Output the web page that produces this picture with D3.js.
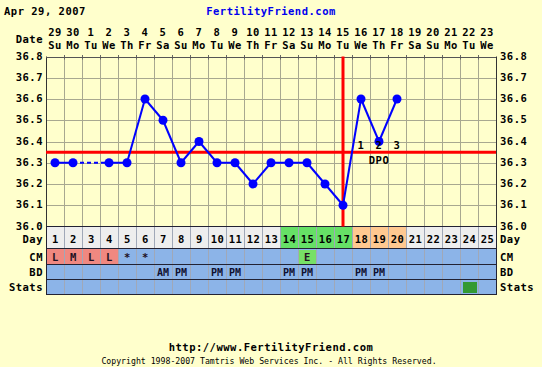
<!DOCTYPE html>
<html><head><meta charset="utf-8">
<script src="https://cdn.jsdelivr.net/npm/d3@7"></script>
<style>
html,body{margin:0;padding:0;background:#FFFFCC;}
svg{display:block;}
text{font-family:"DejaVu Sans Mono",monospace;font-weight:bold;}
</style></head>
<body>
<svg id="c" width="542" height="367"></svg>
<script>
const days = [1,2,3,4,5,6,7,8,9,10,11,12,13,14,15,16,17,18,19,20,21,22,23,24,25];
const dateLabels = ["29","30","1","2","3","4","5","6","7","8","9","10","11","12","13","14","15","16","17","18","19","20","21","22","23"];
const weekdays = ["Su","Mo","Tu","We","Th","Fr","Sa","Su","Mo","Tu","We","Th","Fr","Sa","Su","Mo","Tu","We","Th","Fr","Sa","Su","Mo","Tu","We"];
const temps = [36.3,36.3,null,36.3,36.3,36.6,36.5,36.3,36.4,36.3,36.3,36.2,36.3,36.3,36.3,36.2,36.1,36.6,36.4,36.6,null,null,null,null,null];
const cmValues = ["L","M","L","L","*","*","","","","","","","","","E","","","","","","","","","",""];
const bdValues = ["","","","","","","AM","PM","","PM","PM","","","PM","PM","","","PM","PM","","","","","",""];
const statsDays = [24];
const fertileDays = [14,15,16,17];
const dpoDays = [18,19,20];
const dpoLabels = ["1","2","3"];
const menstrualDays = [1,2,3,4];
const eggWhiteDays = [15];
const coverline = 36.35;
const ovulationDay = 17;
const yTicks = [36.0,36.1,36.2,36.3,36.4,36.5,36.6,36.7,36.8];
const title = "Apr 29, 2007";

const FS = "10.5px", LS = "0.5px";
const svg = d3.select("#c");
const L = 46, R = 496, T = 56.5, B = 226.5;
const x = d3.scaleBand().domain(days).range([L, R]).padding(0);
const y = d3.scaleLinear().domain([36.0, 36.8]).range([B, T]);
const cx = d => x(d) + x.bandwidth()/2;
function txt(sel){ return sel.attr("font-size",FS).attr("letter-spacing",LS); }

svg.append("rect").attr("width",542).attr("height",367).attr("fill","#FFFFCC");

// header
txt(svg.append("text")).attr("x",4).attr("y",15).attr("fill","#000").text(title);
txt(svg.append("text")).attr("x",271).attr("y",15).attr("text-anchor","middle").attr("fill","#0000EE").text("FertilityFriend.com");

// date header
txt(svg.append("text")).attr("x",43).attr("y",43).attr("text-anchor","end").text("Date");
txt(svg.append("g").selectAll("text").data(days).join("text"))
  .attr("x",d=>cx(d)).attr("y",36).attr("text-anchor","middle")
  .text((d,i)=>dateLabels[i]);
txt(svg.append("g").selectAll("text").data(days).join("text"))
  .attr("x",d=>cx(d)).attr("y",49).attr("text-anchor","middle")
  .text((d,i)=>weekdays[i]);

// grid
const grid = svg.append("g").attr("stroke","#A8A890").attr("stroke-width",1);
grid.selectAll("line.h").data(yTicks).join("line")
  .attr("x1",L).attr("x2",R).attr("y1",d=>Math.round(y(d))+0.5).attr("y2",d=>Math.round(y(d))+0.5);
grid.selectAll("line.v").data(days.slice(1)).join("line")
  .attr("x1",d=>Math.round(x(d))+0.5).attr("x2",d=>Math.round(x(d))+0.5).attr("y1",T).attr("y2",B);
// top tick marks
svg.append("g").attr("stroke","#666").selectAll("line").data(days.slice(1)).join("line")
  .attr("x1",d=>Math.round(x(d))+0.5).attr("x2",d=>Math.round(x(d))+0.5).attr("y1",T-1.5).attr("y2",T+3);
svg.append("line").attr("x1",L+0.5).attr("x2",L+0.5).attr("y1",T).attr("y2",B).attr("stroke","#333");
svg.append("line").attr("x1",R+0.5).attr("x2",R+0.5).attr("y1",T).attr("y2",B).attr("stroke","#333");
svg.append("line").attr("x1",L).attr("x2",R).attr("y1",Math.round(T)+0.5).attr("y2",Math.round(T)+0.5).attr("stroke","#555");

// y axis labels
txt(svg.append("g").selectAll("text").data(yTicks).join("text"))
  .attr("x",43).attr("y",d=>y(d)+3).attr("text-anchor","end").text(d=>d.toFixed(1));
txt(svg.append("g").selectAll("text").data(yTicks).join("text"))
  .attr("x",500).attr("y",d=>y(d)+3).attr("text-anchor","start").text(d=>d.toFixed(1));

// rows
const rows = [
  {name:"Day", y0:227, y1:248, ty:243},
  {name:"CM", y0:249, y1:264, ty:261},
  {name:"BD", y0:265, y1:279, ty:276},
  {name:"Stats", y0:280, y1:294, ty:291}
];
svg.append("g").selectAll("rect").data(days).join("rect")
  .attr("x",d=>x(d)).attr("y",rows[0].y0).attr("width",x.bandwidth()).attr("height",rows[0].y1-rows[0].y0)
  .attr("fill",d=>fertileDays.includes(d)?"#66E066":dpoDays.includes(d)?"#FFC890":"#EEEEEE");
rows.slice(1).forEach(r=>{
  svg.append("rect").attr("x",L).attr("y",r.y0).attr("width",R-L).attr("height",r.y1-r.y0).attr("fill","#8CB4E8");
});
svg.append("g").selectAll("rect").data(menstrualDays).join("rect")
  .attr("x",d=>x(d)).attr("y",rows[1].y0).attr("width",x.bandwidth()).attr("height",rows[1].y1-rows[1].y0).attr("fill","#F08880");
svg.append("g").selectAll("rect").data(eggWhiteDays).join("rect")
  .attr("x",d=>x(d)+1).attr("y",rows[1].y0+1).attr("width",x.bandwidth()-1).attr("height",rows[1].y1-rows[1].y0-1).attr("fill","#77E066");
svg.append("g").selectAll("rect").data(statsDays).join("rect")
  .attr("x",d=>x(d)+3).attr("y",rows[3].y0+2).attr("width",x.bandwidth()-4).attr("height",rows[3].y1-rows[3].y0-3).attr("fill","#339933");
svg.append("g").attr("stroke","#A0A8B8").selectAll("line").data(days.slice(1)).join("line")
  .attr("x1",d=>Math.round(x(d))+0.5).attr("x2",d=>Math.round(x(d))+0.5).attr("y1",rows[0].y0).attr("y2",rows[3].y1);
svg.append("g").attr("stroke","#223").selectAll("line").data([226.5,248.5,264.5,279.5,294.5]).join("line")
  .attr("x1",L).attr("x2",R).attr("y1",d=>d).attr("y2",d=>d);
svg.append("line").attr("x1",L+0.5).attr("x2",L+0.5).attr("y1",226).attr("y2",295).attr("stroke","#223");
svg.append("line").attr("x1",R+0.5).attr("x2",R+0.5).attr("y1",226).attr("y2",295).attr("stroke","#223");

// row texts
txt(svg.append("g").selectAll("text").data(days).join("text"))
  .attr("x",d=>cx(d)+0.5).attr("y",rows[0].ty).attr("text-anchor","middle").text(d=>d);
txt(svg.append("g").selectAll("text").data(days).join("text"))
  .attr("x",d=>cx(d)+0.5).attr("y",rows[1].ty).attr("text-anchor","middle").attr("fill","#221122").text((d,i)=>cmValues[i]);
svg.append("g").selectAll("text").data(days).join("text")
  .attr("x",d=>cx(d)).attr("y",rows[2].ty).attr("text-anchor","middle").attr("font-size","10px").attr("fill","#101030").text((d,i)=>bdValues[i]);
rows.forEach(r=>{
  txt(svg.append("text")).attr("x",43).attr("y",r.ty).attr("text-anchor","end").text(r.name);
  txt(svg.append("text")).attr("x",500).attr("y",r.ty).attr("text-anchor","start").text(r.name);
});

// coverline & ovulation
svg.append("line").attr("x1",L).attr("x2",R).attr("y1",y(coverline)).attr("y2",y(coverline)).attr("stroke","#FF0000").attr("stroke-width",3);
svg.append("line").attr("x1",cx(ovulationDay)).attr("x2",cx(ovulationDay)).attr("y1",T).attr("y2",B).attr("stroke","#FF0000").attr("stroke-width",3);

// temperature line
const pts = days.map((d,i)=>({d, t:temps[i]}));
const valid = pts.filter(p=>p.t!==null);
for (let i=1;i<valid.length;i++){
  const a=valid[i-1], b=valid[i];
  const gap = b.d - a.d > 1;
  svg.append("line").attr("x1",cx(a.d)).attr("y1",y(a.t)).attr("x2",cx(b.d)).attr("y2",y(b.t))
    .attr("stroke","#0000FF").attr("stroke-width",2).attr("stroke-dasharray",gap?"4,3":null);
}
svg.append("g").selectAll("circle").data(valid).join("circle")
  .attr("cx",p=>cx(p.d)).attr("cy",p=>y(p.t)).attr("r",4.5).attr("fill","#0000FF");

// DPO labels
txt(svg.append("g").selectAll("text").data(dpoDays).join("text"))
  .attr("x",d=>cx(d)).attr("y",y(coverline)-3).attr("text-anchor","middle").text((d,i)=>dpoLabels[i]);
txt(svg.append("text")).attr("x",cx(dpoDays[1])).attr("y",y(coverline)+12).attr("text-anchor","middle").text("DPO");

// footer
txt(svg.append("text")).attr("x",271).attr("y",351).attr("text-anchor","middle").text("http://www.FertilityFriend.com");
svg.append("text").attr("x",269).attr("y",364).attr("text-anchor","middle").attr("font-size","8.2px").style("font-weight","normal").text("Copyright 1998-2007 Tamtris Web Services Inc. - All Rights Reserved.");
</script>
</body></html>
